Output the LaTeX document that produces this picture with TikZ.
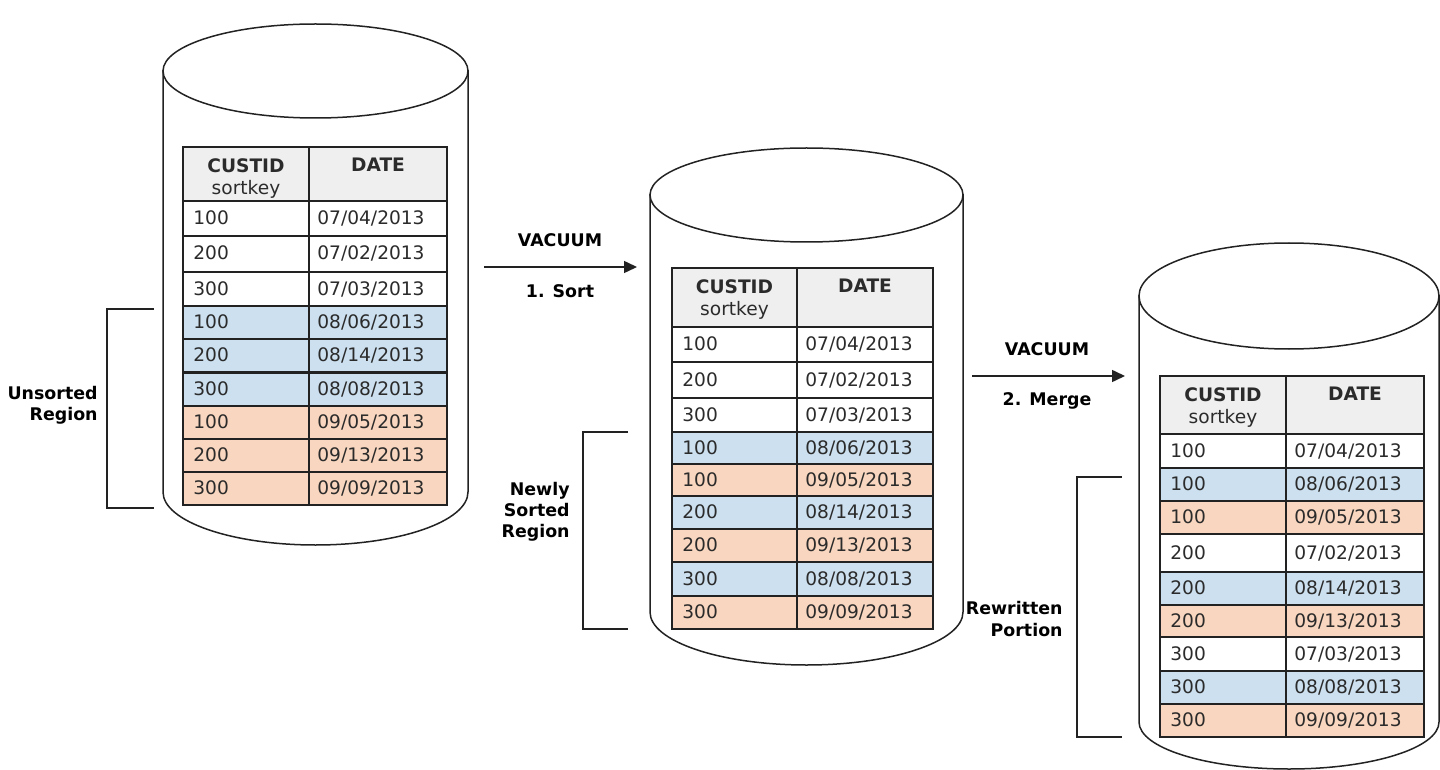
\documentclass[tikz,border=0pt]{standalone}
\usepackage{fontspec}
\setmainfont{DejaVu Sans}
\usetikzlibrary{arrows.meta}
\definecolor{hdrgrey}{HTML}{EFEFEF}
\definecolor{rowblue}{HTML}{CCE0EF}
\definecolor{roworange}{HTML}{F9D6BF}
\definecolor{linecol}{HTML}{222222}
\definecolor{txtcol}{HTML}{2B2B2B}
\tikzset{
  cylline/.style={draw=linecol, line width=0.75pt, fill=white},
  cellline/.style={draw=linecol, line width=0.7pt},
  celltxt/.style={anchor=base west, inner sep=0pt, text=txtcol, font=\fontsize{9.3}{11}\selectfont},
  hdrtxt/.style={anchor=north, inner sep=0pt, text=txtcol, align=center, font=\fontsize{9.3}{11}\selectfont},
  lbl/.style={inner sep=0pt, text=black, align=right, font=\fontsize{8.7}{10.6}\selectfont\bfseries},
  arrlbl/.style={anchor=base, inner sep=0pt, text=black, font=\fontsize{8.7}{10.6}\selectfont\bfseries},
  arr/.style={draw=linecol, line width=0.75pt, -{Triangle[length=6.5pt,width=6pt]}},
  bracket/.style={draw=linecol, line width=0.75pt}
}
% #1 name, #2 left, #3 right, #4 top cy, #5 top ry, #6 bottom cy, #7 bottom ry
\newcommand{\dbcyl}[7]{%
  \pgfmathsetmacro{\rxpt}{(#3-#2)/4}%
  \pgfmathsetmacro{\trpt}{#5/2}%
  \pgfmathsetmacro{\brpt}{#7/2}%
  \path[cylline] (#2,#4) -- (#2,#6) arc[start angle=180, end angle=360, x radius=\rxpt pt, y radius=\brpt pt] -- (#3,#4) -- cycle;
  \draw[cylline] ({(#2+#3)/2},#4) ellipse[x radius=\rxpt pt, y radius=\trpt pt];
  \coordinate (#1-top) at ({(#2+#3)/2},#4);
}
% #1 name, #2 left, #3 mid, #4 right, #5 header top, #6 header bottom, #7 rows
\newcommand{\dbtable}[7]{%
  \draw[cellline, fill=hdrgrey] (#2,#5) rectangle (#3,#6);
  \draw[cellline, fill=hdrgrey] (#3,#5) rectangle (#4,#6);
  \node[hdrtxt] (#1-h1) at ({(#2+#3)/2},#5+11) {\textbf{CUSTID}\\sortkey};
  \node[hdrtxt] (#1-h2) at ({(#3+#4)/2},#5+11) {\textbf{DATE}};
  \foreach \t/\b/\c/\k/\d [count=\i] in {#7} {
    \draw[cellline, fill=\c] (#2,\t) rectangle (#3,\b);
    \draw[cellline, fill=\c] (#3,\t) rectangle (#4,\b);
    \node[celltxt] (#1-\i-k) at (#2+10,{(\t+\b)/2+6}) {\k};
    \node[celltxt] (#1-\i-d) at (#3+8,{(\t+\b)/2+6}) {\d};
  }
}
\begin{document}
\begin{tikzpicture}[x=0.5pt, y=-0.5pt]
\useasboundingbox (0,0) rectangle (1440,770);

% ---------- cylinder 1 ----------
\dbcyl{c1}{163}{468}{71}{47}{492}{53}
\dbtable{t1}{183}{309}{447}{147}{201}{
  201/236/white/100/07\slash 04\slash 2013,
  236/272/white/200/07\slash 02\slash 2013,
  272/306/white/300/07\slash 03\slash 2013,
  306/339/rowblue/100/08\slash 06\slash 2013,
  339/372/rowblue/200/08\slash 14\slash 2013,
  372/406/rowblue/300/08\slash 08\slash 2013,
  406/439/roworange/100/09\slash 05\slash 2013,
  439/472/roworange/200/09\slash 13\slash 2013,
  472/505/roworange/300/09\slash 09\slash 2013}
\draw[draw=linecol, line width=1.5pt] (183,372) -- (447,372);

% bracket 1
\coordinate (b1a) at (154,309);
\coordinate (b1b) at (107,309);
\coordinate (b1c) at (107,508);
\coordinate (b1d) at (154,508);
\draw[bracket] (b1a) -- (b1b) -- (b1c) -- (b1d);
\node[lbl, anchor=east] (lab1) at (98,405) {Unsorted\\Region};

% arrow 1
\coordinate (a1s) at (484,267);
\coordinate (a1e) at (637,267);
\draw[arr] (a1s) -- (a1e);
\node[arrlbl] (v1) at (560,247) {VACUUM};
\node[arrlbl] (s1) at (560,298) {1. Sort};

% ---------- cylinder 2 ----------
\dbcyl{c2}{650}{963}{195}{47}{612}{53}
\dbtable{t2}{672}{797}{933}{268}{327}{
  327/362/white/100/07\slash 04\slash 2013,
  362/398/white/200/07\slash 02\slash 2013,
  398/432/white/300/07\slash 03\slash 2013,
  432/464/rowblue/100/08\slash 06\slash 2013,
  464/496/roworange/100/09\slash 05\slash 2013,
  496/529/rowblue/200/08\slash 14\slash 2013,
  529/562/roworange/200/09\slash 13\slash 2013,
  562/596/rowblue/300/08\slash 08\slash 2013,
  596/629/roworange/300/09\slash 09\slash 2013}

% bracket 2
\coordinate (b2a) at (628,432);
\coordinate (b2b) at (583,432);
\coordinate (b2c) at (583,629);
\coordinate (b2d) at (628,629);
\draw[bracket] (b2a) -- (b2b) -- (b2c) -- (b2d);
\node[lbl, anchor=east] (lab2) at (570,512) {Newly\\Sorted\\Region};

% arrow 2
\coordinate (a2s) at (972,376);
\coordinate (a2e) at (1125,376);
\draw[arr] (a2s) -- (a2e);
\node[arrlbl] (v2) at (1047,355) {VACUUM};
\node[arrlbl] (s2) at (1047,405) {2. Merge};

% ---------- cylinder 3 ----------
\dbcyl{c3}{1139}{1439}{296}{53}{722}{47}
\dbtable{t3}{1160}{1286}{1424}{376}{434}{
  434/468/white/100/07\slash 04\slash 2013,
  468/501/rowblue/100/08\slash 06\slash 2013,
  501/534/roworange/100/09\slash 05\slash 2013,
  534/572/white/200/07\slash 02\slash 2013,
  572/605/rowblue/200/08\slash 14\slash 2013,
  605/637/roworange/200/09\slash 13\slash 2013,
  637/671/white/300/07\slash 03\slash 2013,
  671/704/rowblue/300/08\slash 08\slash 2013,
  704/737/roworange/300/09\slash 09\slash 2013}

% bracket 3
\coordinate (b3a) at (1122,477);
\coordinate (b3b) at (1077,477);
\coordinate (b3c) at (1077,737);
\coordinate (b3d) at (1122,737);
\draw[bracket] (b3a) -- (b3b) -- (b3c) -- (b3d);
\node[lbl, anchor=east] (lab3) at (1063,619) {Rewritten\\Portion};
\end{tikzpicture}
\end{document}
